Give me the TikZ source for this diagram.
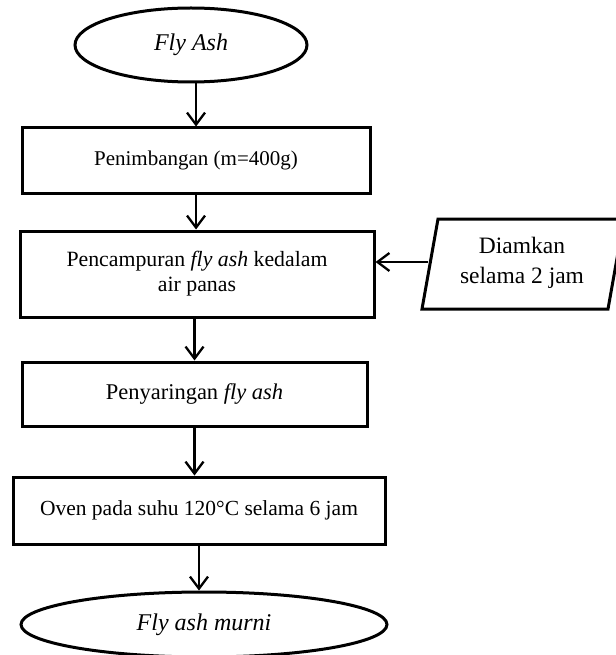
\documentclass[tikz,border=0pt]{standalone}
\usepackage{fontspec}
\setmainfont{Liberation Serif}
\usetikzlibrary{shapes.geometric,arrows.meta}
\begin{document}
\begin{tikzpicture}[x=1pt,y=-1pt,
  every node/.style={font=\fontsize{21.5}{25}\selectfont},
  proc/.style={draw,line width=3pt,rectangle,inner sep=0pt,align=center},
  term/.style={draw,line width=3pt,ellipse,inner sep=0pt,font=\fontsize{24}{28}\selectfont\itshape},
  flow/.style={line width=2.3pt,-{Straight Barb[length=12pt,width=18pt]}}]
\useasboundingbox (0,0) rectangle (615,655);
\node[term,minimum width=232pt,minimum height=74pt] (e1) at (191,45) {Fly Ash};
\node[proc,minimum width=348pt,minimum height=65pt,font=\fontsize{21}{25}\selectfont] (b1) at (196,160.5) {Penimbangan (m=400g)};
\node[proc,minimum width=354pt,minimum height=86pt,font=\fontsize{21.8}{25}\selectfont] (b2) at (197,274) {Pencampuran \textit{fly ash} kedalam\\air panas};
\node[proc,minimum width=345pt,minimum height=64pt,font=\fontsize{22.5}{26}\selectfont] (b3) at (194.5,394) {Penyaringan \textit{fly ash}};
\node[proc,minimum width=372pt,minimum height=67pt] (b4) at (199,510.5) {\raisebox{4pt}{Oven pada suhu 120\textdegree C selama 6 jam}};
\node[term,minimum width=366pt,minimum height=65pt] (e2) at (204,624.5) {Fly ash murni};
\coordinate (p1) at (422,309);
\coordinate (p2) at (438,219);
\coordinate (p3) at (624,219);
\coordinate (p4) at (608,309);
\draw[line width=3pt,line join=miter] (p1) -- (p2) -- (p3) -- (p4) -- cycle;
\node[align=center,font=\fontsize{23.5}{30}\selectfont] (dk) at (522,263) {Diamkan\\selama 2 jam};
\coordinate (pin) at (428,262);
\draw[flow] (b1.north |- e1.south) -- (b1.north);
\draw[flow] (b1.south) -- (b1.south |- b2.north);
\draw[flow] (b3.north |- b2.south) -- (b3.north);
\draw[flow] (b3.south) -- (b3.south |- b4.north);
\draw[flow] (b4.south) -- (b4.south |- e2.north);
\draw[flow] (pin) -- (pin -| b2.east);
\end{tikzpicture}
\end{document}
